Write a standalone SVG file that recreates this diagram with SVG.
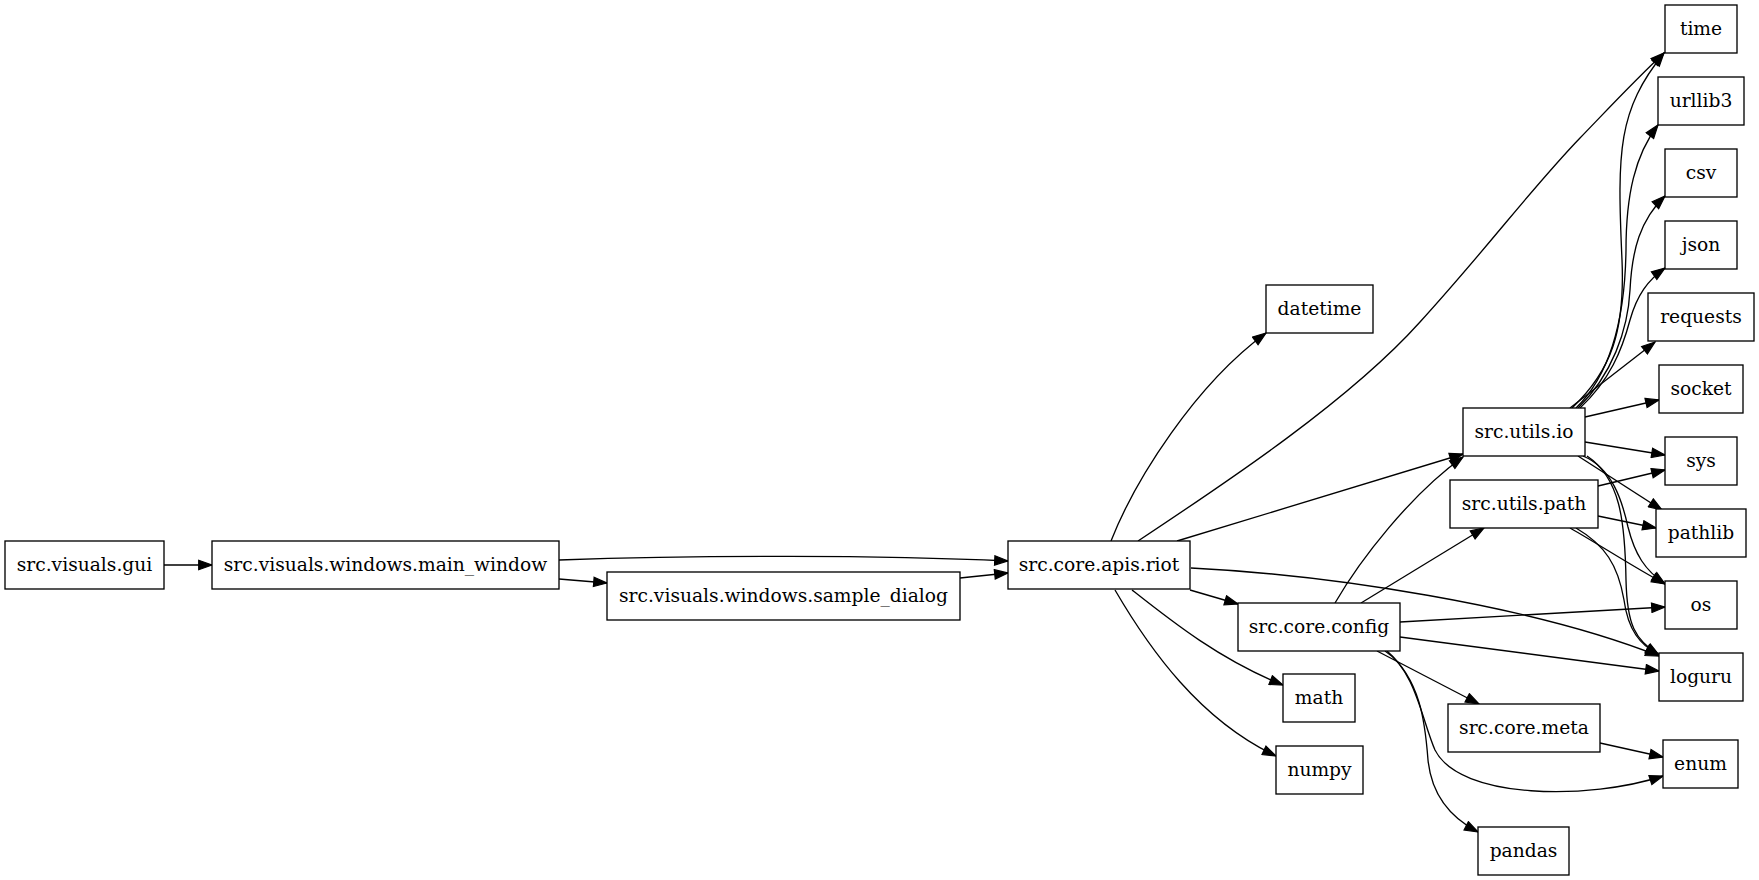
<svg xmlns="http://www.w3.org/2000/svg" width="1759" height="880" viewBox="0 0 1759 880">
<style>
.n rect{fill:#fff;stroke:#000;stroke-width:1.33}
.n text{font-family:"DejaVu Serif",serif;font-size:18.67px;text-anchor:middle;fill:#000}
.e path{fill:none;stroke:#000;stroke-width:1.33;marker-end:url(#ah)}
</style>
<defs>
<marker id="ah" markerUnits="userSpaceOnUse" viewBox="-1 -1 15.3 11.4" markerWidth="15.3" markerHeight="11.4" refX="13.3" refY="4.7" orient="auto">
<path d="M0,0 L13.3,4.7 L0,9.4 z" fill="#000" stroke="#000" stroke-width="1.2" stroke-linejoin="miter"/>
</marker>
</defs>
<rect width="1759" height="880" fill="#fff"/>
<g class="e" id="edges">
<path d="M164,565 L212,565"/>
<path d="M559,560 C700,555 880,555 1008,561"/>
<path d="M559,579 L607,583"/>
<path d="M960,578 L1008,573"/>
<path d="M1111,541 C1135,480 1195,385 1266,333"/>
<path d="M1138,541 C1230,480 1350,400 1420,322 C1490,245 1530,190 1580,138 C1610,107 1635,80 1664,53"/>
<path d="M1177,541 L1463,454"/>
<path d="M1191,568 C1330,575 1530,605 1659,656"/>
<path d="M1190,590 L1238,604"/>
<path d="M1132,590 C1170,620 1220,660 1283,685"/>
<path d="M1115,590 C1150,650 1200,720 1276,756"/>
<path d="M1335,603 C1360,560 1410,495 1463,457"/>
<path d="M1361,603 L1484,528"/>
<path d="M1400,622 L1665,607"/>
<path d="M1400,637 L1659,671"/>
<path d="M1377,651 L1479,704"/>
<path d="M1385,651 C1415,670 1422,720 1435,750 C1460,800 1590,800 1663,776"/>
<path d="M1387,651 C1420,680 1425,720 1428,760 C1432,800 1455,820 1478,832"/>
<path d="M1600,743 L1663,757"/>
<path d="M1572,408 C1612,370 1625,330 1622,260 C1617,150 1618,110 1664,53"/>
<path d="M1576,408 C1610,375 1625,320 1626,250 C1626,195 1635,155 1658,125"/>
<path d="M1578,408 C1612,375 1628,330 1630,290 C1632,250 1640,220 1665,196"/>
<path d="M1580,408 C1610,380 1622,350 1630,320 C1637,295 1648,280 1665,268"/>
<path d="M1570,408 L1655,342"/>
<path d="M1585,417 L1659,400"/>
<path d="M1585,442 L1665,455"/>
<path d="M1578,456 L1662,510"/>
<path d="M1583,456 C1612,468 1622,500 1628,527 C1635,555 1645,570 1665,584"/>
<path d="M1587,456 C1620,478 1625,520 1626,580 C1627,625 1635,640 1659,655"/>
<path d="M1598,486 L1665,470"/>
<path d="M1598,516 L1656,528"/>
<path d="M1570,528 C1600,545 1630,565 1665,584"/>
<path d="M1576,528 C1605,545 1618,565 1624,600 C1628,630 1640,645 1659,655"/>
</g>
<g class="n" id="gui"><rect x="5" y="541" width="159" height="48"/><text x="84.5" y="571">src.visuals.gui</text></g>
<g class="n" id="main_window"><rect x="212" y="541" width="347" height="48"/><text x="385.5" y="571">src.visuals.windows.main_window</text></g>
<g class="n" id="sample_dialog"><rect x="607" y="572" width="353" height="48"/><text x="783.5" y="602">src.visuals.windows.sample_dialog</text></g>
<g class="n" id="riot"><rect x="1008" y="541" width="182" height="48"/><text x="1099" y="571">src.core.apis.riot</text></g>
<g class="n" id="datetime"><rect x="1266" y="285" width="107" height="48"/><text x="1319.5" y="315">datetime</text></g>
<g class="n" id="config"><rect x="1238" y="603" width="162" height="48"/><text x="1319" y="633">src.core.config</text></g>
<g class="n" id="math"><rect x="1283" y="674" width="72" height="48"/><text x="1319" y="704">math</text></g>
<g class="n" id="numpy"><rect x="1276" y="746" width="87" height="48"/><text x="1319.5" y="776">numpy</text></g>
<g class="n" id="utils_io"><rect x="1463" y="408" width="122" height="48"/><text x="1524" y="438">src.utils.io</text></g>
<g class="n" id="utils_path"><rect x="1450" y="480" width="148" height="48"/><text x="1524" y="510">src.utils.path</text></g>
<g class="n" id="meta"><rect x="1448" y="704" width="152" height="48"/><text x="1524" y="734">src.core.meta</text></g>
<g class="n" id="pandas"><rect x="1478" y="827" width="91" height="48"/><text x="1523.5" y="857">pandas</text></g>
<g class="n" id="time"><rect x="1665" y="5" width="72" height="48"/><text x="1701" y="35">time</text></g>
<g class="n" id="urllib3"><rect x="1658" y="77" width="86" height="48"/><text x="1701" y="107">urllib3</text></g>
<g class="n" id="csv"><rect x="1665" y="149" width="72" height="48"/><text x="1701" y="179">csv</text></g>
<g class="n" id="json"><rect x="1665" y="221" width="72" height="48"/><text x="1701" y="251">json</text></g>
<g class="n" id="requests"><rect x="1648" y="293" width="106" height="48"/><text x="1701" y="323">requests</text></g>
<g class="n" id="socket"><rect x="1659" y="365" width="84" height="48"/><text x="1701" y="395">socket</text></g>
<g class="n" id="sys"><rect x="1665" y="437" width="72" height="48"/><text x="1701" y="467">sys</text></g>
<g class="n" id="pathlib"><rect x="1656" y="509" width="90" height="48"/><text x="1701" y="539">pathlib</text></g>
<g class="n" id="os"><rect x="1665" y="581" width="72" height="48"/><text x="1701" y="611">os</text></g>
<g class="n" id="loguru"><rect x="1659" y="653" width="84" height="48"/><text x="1701" y="683">loguru</text></g>
<g class="n" id="enum"><rect x="1663" y="740" width="75" height="48"/><text x="1700.5" y="770">enum</text></g>
</svg>
